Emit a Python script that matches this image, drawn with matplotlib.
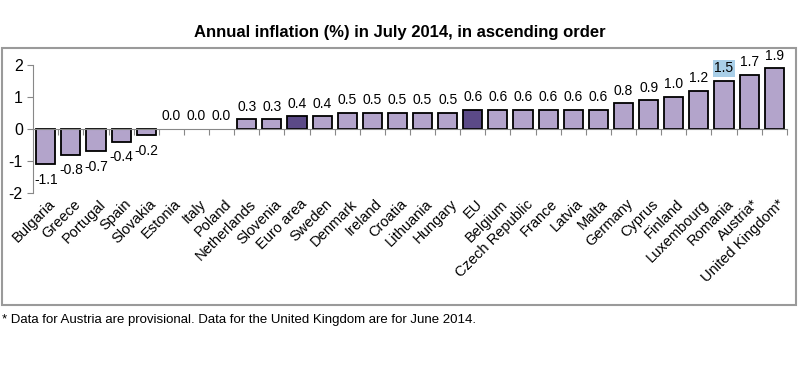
import matplotlib.pyplot as plt
from matplotlib.patches import Rectangle

plt.rcParams['font.family'] = ['Liberation Sans', 'DejaVu Sans']
plt.rcParams['axes.unicode_minus'] = False

# ------------------------------------------------------------
# Data
# ------------------------------------------------------------
countries = ["Bulgaria", "Greece", "Portugal", "Spain", "Slovakia", "Estonia",
             "Italy", "Poland", "Netherlands", "Slovenia", "Euro area", "Sweden",
             "Denmark", "Ireland", "Croatia", "Lithuania", "Hungary", "EU",
             "Belgium", "Czech Republic", "France", "Latvia", "Malta", "Germany",
             "Cyprus", "Finland", "Luxembourg", "Romania", "Austria*",
             "United Kingdom*"]
inflation = [-1.1, -0.8, -0.7, -0.4, -0.2, 0.0, 0.0, 0.0, 0.3, 0.3, 0.4, 0.4,
             0.5, 0.5, 0.5, 0.5, 0.5, 0.6, 0.6, 0.6, 0.6, 0.6, 0.6, 0.8,
             0.9, 1.0, 1.2, 1.5, 1.7, 1.9]
aggregates = ["Euro area", "EU"]

title = "Annual inflation (%) in July 2014, in ascending order"
footnote = "* Data for Austria are provisional. Data for the United Kingdom are for June 2014."

light = "#B3A4CB"
dark = "#5B4A87"

# ------------------------------------------------------------
# Figure
# ------------------------------------------------------------
fig = plt.figure(figsize=(8, 3.67), dpi=100)

# grey frame around the chart
fig.patches.append(Rectangle((0.002, 0.169), 0.993, 0.700, transform=fig.transFigure,
                             fill=False, edgecolor="#9a9a9a", linewidth=1.5))

ax = fig.add_axes([0.0415, 0.474, 0.942, 0.349])

x = list(range(len(countries)))
colors = [dark if c in aggregates else light for c in countries]
widths = [0 if v == 0 else 1.3 for v in inflation]
ax.bar(x, inflation, width=0.76, color=colors, edgecolor="black", linewidth=widths,
       zorder=2)

# value labels
for i, v in enumerate(inflation):
    kw = {}
    if countries[i] == "Romania":
        kw["bbox"] = dict(boxstyle="square,pad=0.1", facecolor="#A9CFE8",
                          edgecolor="none")
    if v < 0:
        ax.annotate(f"{v:.1f}", (i, v), xytext=(0, -6), textcoords="offset points",
                    ha="center", va="top", fontsize=10, **kw)
    else:
        ax.annotate(f"{v:.1f}", (i, v), xytext=(0, 4), textcoords="offset points",
                    ha="center", va="bottom", fontsize=10, **kw)

# category labels below the plot
for i, name in enumerate(countries):
    ax.text(i + 0.1, -2.12, name, rotation=45, ha="right", va="top",
            rotation_mode="anchor", fontsize=10.5, clip_on=False)

ax.set_xlim(-0.5, len(countries) - 0.5)
ax.set_ylim(-2, 2)
ax.set_yticks([-2, -1, 0, 1, 2])
ax.tick_params(axis="y", direction="out", length=4, labelsize=11.5, color="#888888")

# x axis drawn at zero with ticks between categories
ax.spines["bottom"].set_position(("data", 0))
ax.spines["bottom"].set_color("#888888")
ax.spines["left"].set_color("#888888")
ax.spines["top"].set_visible(False)
ax.spines["right"].set_visible(False)
ax.set_xticks([i - 0.5 for i in range(1, len(countries) + 1)])
ax.set_xticklabels([])
ax.tick_params(axis="x", direction="out", length=4, color="#888888")

fig.text(0.5, 0.912, title, ha="center", va="center", fontsize=12, fontweight="bold")
fig.text(0.003, 0.128, footnote, ha="left", va="center", fontsize=9.5)

fig.savefig("out.png", dpi=100)
